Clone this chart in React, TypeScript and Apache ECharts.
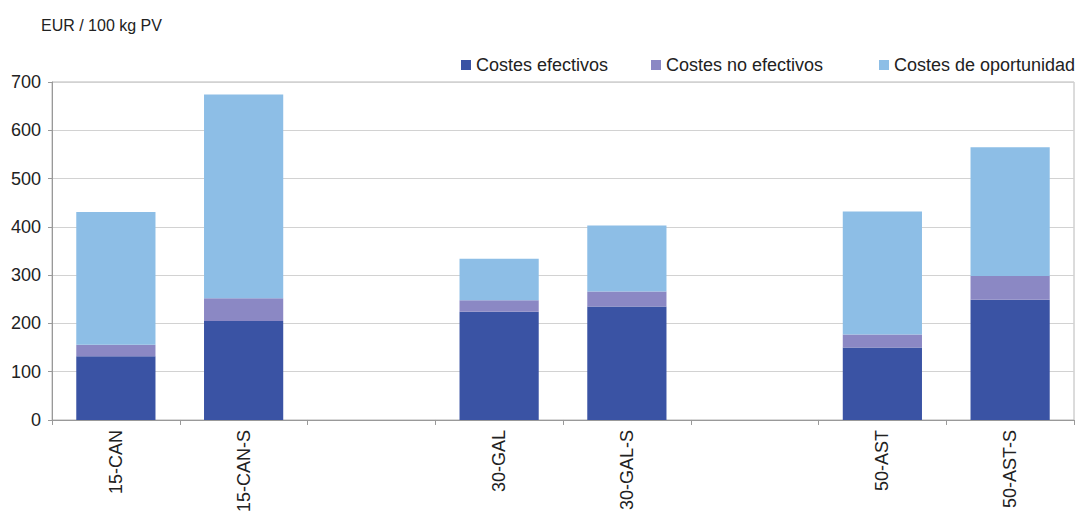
import React, { useEffect, useRef } from "react";
import * as echarts from "echarts";

const categories = ["15-CAN", "15-CAN-S", "", "30-GAL", "30-GAL-S", "", "50-AST", "50-AST-S"];
const costesEfectivos = [132, 205, null, 224, 235, null, 150, 249];
const costesNoEfectivos = [24, 47, null, 24, 31, null, 27, 49];
const costesOportunidad = [275, 422, null, 86, 137, null, 255, 267];
const seriesNames = ["Costes efectivos", "Costes no efectivos", "Costes de oportunidad"];
const colors = ["#3A53A4", "#8B88C4", "#8DBEE6"];

const FONT = "'Liberation Sans', Arial, sans-serif";

export default function App() {
  const ref = useRef<HTMLDivElement>(null);
  useEffect(() => {
    const chart = echarts.init(ref.current!, null, { renderer: "svg" });
    const values = [costesEfectivos, costesNoEfectivos, costesOportunidad];
    const legendPos = [461, 651, 879];
    chart.setOption({
      animation: false,
      backgroundColor: "#ffffff",
      textStyle: { fontFamily: FONT },
      title: {
        text: "EUR / 100 kg PV",
        left: 36,
        top: 12,
        textStyle: { fontSize: 16, fontWeight: "normal", color: "#222", fontFamily: FONT },
      },
      legend: seriesNames.map((n, i) => ({
        data: [n],
        left: legendPos[i],
        top: 56,
        padding: 0,
        icon: "rect",
        itemWidth: 10,
        itemHeight: 10,
        itemGap: 4,
        textStyle: { fontSize: 18, color: "#222", fontFamily: FONT },
      })),
      grid: {
        left: 52,
        right: 3,
        top: 82,
        bottom: 92,
        show: true,
        borderColor: "#b8b8b8",
        borderWidth: 1,
      },
      xAxis: {
        type: "category",
        data: categories,
        boundaryGap: true,
        axisLine: { lineStyle: { color: "#999" } },
        axisTick: { show: true, alignWithLabel: false, interval: 0, length: 5, lineStyle: { color: "#999" } },
        axisLabel: {
          rotate: 90,
          interval: 0,
          margin: 10,
          fontSize: 18,
          color: "#222",
          fontFamily: FONT,
        },
      },
      yAxis: {
        type: "value",
        min: 0,
        max: 700,
        interval: 100,
        axisLine: { show: true, lineStyle: { color: "#999" } },
        axisTick: { show: true, length: 4, lineStyle: { color: "#999" } },
        splitLine: { lineStyle: { color: "#d2d2d2" } },
        axisLabel: { fontSize: 18, color: "#222", margin: 11, fontFamily: FONT },
      },
      series: seriesNames.map((n, i) => ({
        name: n,
        type: "bar",
        stack: "total",
        barWidth: "62%",
        itemStyle: { color: colors[i] },
        data: values[i].map((v) => (v === null ? "-" : v)),
      })),
    });
    return () => chart.dispose();
  }, []);
  return <div ref={ref} style={{ width: 1077, height: 515, position: "absolute", left: 0, top: 0 }} />;
}
